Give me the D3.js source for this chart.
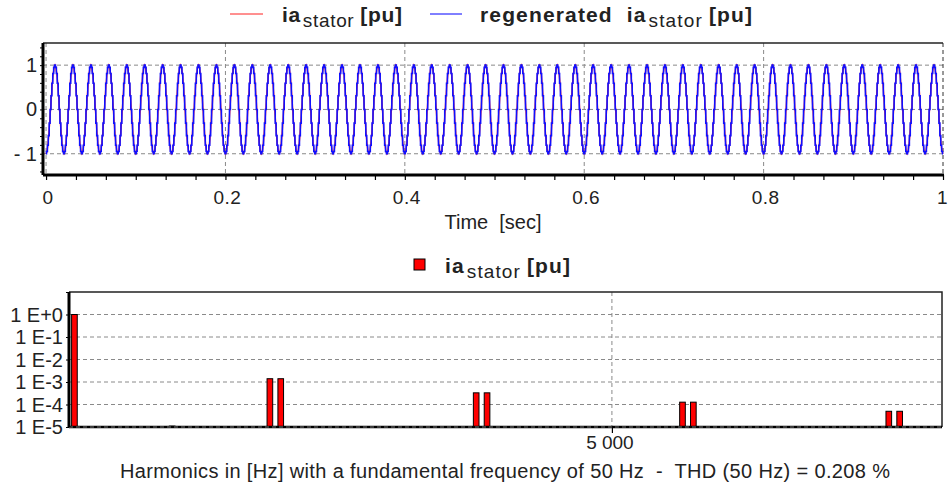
<!DOCTYPE html>
<html><head><meta charset="utf-8">
<script src="https://cdn.jsdelivr.net/npm/d3@7"></script>
<style>
body{margin:0;background:#fff}
svg{display:block}
text{font-family:"Liberation Sans",Arial,sans-serif;fill:#222}
</style>
</head><body>
<svg id="c" width="948" height="491"></svg>
<script>
// ---------- data ----------
const cycleCount = 50;                 // 50 Hz over 1 s
const samplesPerCycle = 20;
const cycleSamples = [-1,-0.95,-0.81,-0.59,-0.31,0,0.31,0.59,0.81,0.95,1,0.95,0.81,0.59,0.31,0,-0.31,-0.59,-0.81,-0.95];
const timeTicks = [0,0.2,0.4,0.6,0.8,1];
const timeTickLabels = ["0","0.2","0.4","0.6","0.8","1"];
const ampTicks = [1,0,-1];
const ampTickLabels = ["1","0","- 1"];

const harmonicFreqs = [50, 950, 1850, 1950, 3750, 3850, 5650, 5750, 7550, 7650];
const harmonicMags  = [1, 1.1e-5, 1.4e-3, 1.4e-3, 3.3e-4, 3.3e-4, 1.27e-4, 1.27e-4, 5e-5, 5e-5];
const magTicks = [1,1e-1,1e-2,1e-3,1e-4,1e-5];
const magTickLabels = ["1 E+0","1 E-1","1 E-2","1 E-3","1 E-4","1 E-5"];
const freqTicks = [5000];
const freqTickLabels = ["5 000"];

// ---------- build series ----------
const wave = [];
for (let c = 0; c < cycleCount; c++) {
  cycleSamples.forEach((v, k) => wave.push({t: (c*samplesPerCycle + k)/(cycleCount*samplesPerCycle), v}));
}
wave.push({t: 1, v: cycleSamples[0]});

const svg = d3.select("#c");

// ---------- top chart ----------
const T = {l:43, r:943, t:43, b:175};
const x1 = d3.scaleLinear().domain([-0.0034, 1]).range([T.l, T.r]);
const y1 = d3.scaleLinear().domain([-1.48, 1.5]).range([T.b, T.t]);

const g1 = svg.append("g");
// grid
g1.selectAll(".hg").data(ampTicks).join("line")
  .attr("x1", T.l).attr("x2", T.r).attr("y1", d=>y1(d)).attr("y2", d=>y1(d))
  .attr("stroke","#8a8a8a").attr("stroke-dasharray","4,3");
g1.selectAll(".vg").data(timeTicks).join("line")
  .attr("x1", d=>x1(d)).attr("x2", d=>x1(d)).attr("y1", T.t).attr("y2", T.b)
  .attr("stroke", d=> d===1 ? "#333" : "#8a8a8a").attr("stroke-dasharray","4,3");

// lines
const lineRed = d3.line().x(d=>x1(d.t)).y(d=>y1(d.v));
const lineBlue = d3.line().x(d=>x1(d.t)).y(d=>y1(d.v)).curve(d3.curveStep);
g1.append("path").datum(wave).attr("d", lineRed).attr("fill","none").attr("stroke","#ff2020").attr("stroke-width",1.4);
g1.append("path").datum(wave).attr("d", lineBlue).attr("fill","none").attr("stroke","#1010ff").attr("stroke-width",1.6);

// frame
g1.append("line").attr("x1",T.l).attr("x2",T.r).attr("y1",T.t).attr("y2",T.t).attr("stroke","#222").attr("stroke-width",1.5);
// bottom axis
const minorT = d3.range(0, 31).map(i => i/30);
const xAxis1 = d3.axisBottom(x1).tickValues(minorT).tickSize(5).tickFormat("");
const ax1 = g1.append("g").attr("transform",`translate(0,${T.b})`).call(xAxis1);
ax1.select(".domain").attr("stroke","#000").attr("stroke-width",3).attr("d",`M${T.l},0H${T.r+1}`);
ax1.selectAll(".tick line").attr("stroke","#000").attr("stroke-width",1.2);
g1.selectAll(".xl").data(timeTicks).join("text")
  .attr("x", d=> d===1 ? 948 : x1(d)+2).attr("y", 204)
  .attr("text-anchor", d=> d===1 ? "end" : "middle")
  .attr("font-size",19).attr("letter-spacing",0.5).text((d,i)=>timeTickLabels[i]);
g1.append("text").attr("x",493).attr("y",229).attr("text-anchor","middle").attr("font-size",20)
  .attr("xml:space","preserve").text("Time  [sec]");
// left axis
const yAxis1 = d3.axisLeft(y1).tickValues(d3.range(-1.4, 1.5, 0.2)).tickSize(3).tickFormat("");
const ay1 = g1.append("g").attr("transform",`translate(${T.l},0)`).call(yAxis1);
ay1.select(".domain").attr("stroke","#000").attr("stroke-width",3).attr("d",`M0,${T.t}V${T.b}`);
ay1.selectAll(".tick line").attr("stroke","#000").attr("stroke-width",1);
g1.selectAll(".yl").data(ampTicks).join("text")
  .attr("x", 37).attr("y", d=>y1(d)+7).attr("text-anchor","end")
  .attr("font-size",20).attr("xml:space","preserve").text((d,i)=>ampTickLabels[i]);

// legend
function legendLabel(g, x, y, pre, w) {
  const t = g.append("text").attr("x", x).attr("y", y).attr("font-size",21).attr("xml:space","preserve");
  t.append("tspan").attr("font-weight","bold").text(pre + "ia");
  t.append("tspan").attr("font-size",19).attr("dy",5).attr("dx",2).text("stator");
  t.append("tspan").attr("font-weight","bold").attr("dy",-5).attr("dx",6).text("[pu]");
  t.attr("textLength", w).attr("lengthAdjust","spacing");
  return t;
}
g1.append("line").attr("x1",230).attr("x2",263).attr("y1",14).attr("y2",14).attr("stroke","#ff2020").attr("stroke-width",1);
legendLabel(g1, 282, 22, "", 120);
g1.append("line").attr("x1",430).attr("x2",462).attr("y1",14).attr("y2",14).attr("stroke","#0000ff").attr("stroke-width",1);
legendLabel(g1, 480, 22, "regenerated  ", 272);

// ---------- bottom chart ----------
const B = {l:69, r:942, t:292, b:427};
const x2 = d3.scaleLinear().domain([0, 8040]).range([B.l, B.r]);
const y2 = d3.scaleLog().domain([1e-5, 10]).range([B.b, B.t]);
const g2 = svg.append("g");

g2.selectAll(".hg").data(magTicks.slice(0,5)).join("line")
  .attr("x1", B.l).attr("x2", B.r).attr("y1", d=>y2(d)).attr("y2", d=>y2(d))
  .attr("stroke","#8a8a8a").attr("stroke-dasharray","4,3");
g2.selectAll(".vg").data(freqTicks).join("line")
  .attr("x1", d=>x2(d)).attr("x2", d=>x2(d)).attr("y1", B.t).attr("y2", B.b)
  .attr("stroke","#8a8a8a").attr("stroke-dasharray","4,3");

const barW = 52;
g2.selectAll(".bar").data(harmonicFreqs).join("rect")
  .attr("x", d=>x2(d - barW/2)).attr("width", d=>x2(d+barW/2)-x2(d-barW/2))
  .attr("y", (d,i)=>y2(harmonicMags[i])).attr("height",(d,i)=>Math.max(1, y2(1e-5)-y2(harmonicMags[i])))
  .attr("fill","#ff0000").attr("stroke","#000").attr("stroke-width",1);

// frame top/right
g2.append("path").attr("d",`M${B.l},${B.t}H${B.r}V${B.b}`).attr("fill","none").attr("stroke","#222").attr("stroke-width",1.5);
// bottom axis
const xAxis2 = d3.axisBottom(x2).tickValues(freqTicks).tickSize(6).tickFormat("");
const ax2 = g2.append("g").attr("transform",`translate(0,${B.b})`).call(xAxis2);
ax2.select(".domain").attr("stroke","#000").attr("stroke-width",2.5).attr("d",`M${B.l},0H${B.r}`);
ax2.selectAll(".tick line").attr("stroke","#000").attr("stroke-width",1.2);
g2.append("line").attr("x1",B.l).attr("x2",B.r).attr("y1",B.b).attr("y2",B.b).attr("stroke","#777").attr("stroke-dasharray","4,3");
g2.selectAll(".xl").data(freqTicks).join("text")
  .attr("x", d=>x2(d)-2).attr("y", 449).attr("text-anchor","middle").attr("font-size",19)
  .text((d,i)=>freqTickLabels[i]);
g2.append("text").attr("x",505).attr("y",478).attr("text-anchor","middle").attr("font-size",20)
  .attr("xml:space","preserve").attr("textLength",770).attr("lengthAdjust","spacing")
  .text("Harmonics in [Hz] with a fundamental frequency of 50 Hz  -  THD (50 Hz) = 0.208 %");
// left axis
const yAxis2 = d3.axisLeft(y2).ticks(6).tickSize(3).tickFormat("");
const ay2 = g2.append("g").attr("transform",`translate(${B.l},0)`).call(yAxis2);
ay2.select(".domain").attr("stroke","#000").attr("stroke-width",3).attr("d",`M0,${B.t}V${B.b}`);
ay2.selectAll(".tick line").attr("stroke","#000").attr("stroke-width",1);
g2.selectAll(".yl").data(magTicks).join("text")
  .attr("x", 63).attr("y", d=>y2(d)+7).attr("text-anchor","end").attr("font-size",20)
  .text((d,i)=>magTickLabels[i]);

// legend bottom
g2.append("rect").attr("x",414).attr("y",259).attr("width",11).attr("height",11).attr("fill","#ff0000").attr("stroke","#000");
legendLabel(g2, 445, 273, "", 125);
</script>
</body></html>
